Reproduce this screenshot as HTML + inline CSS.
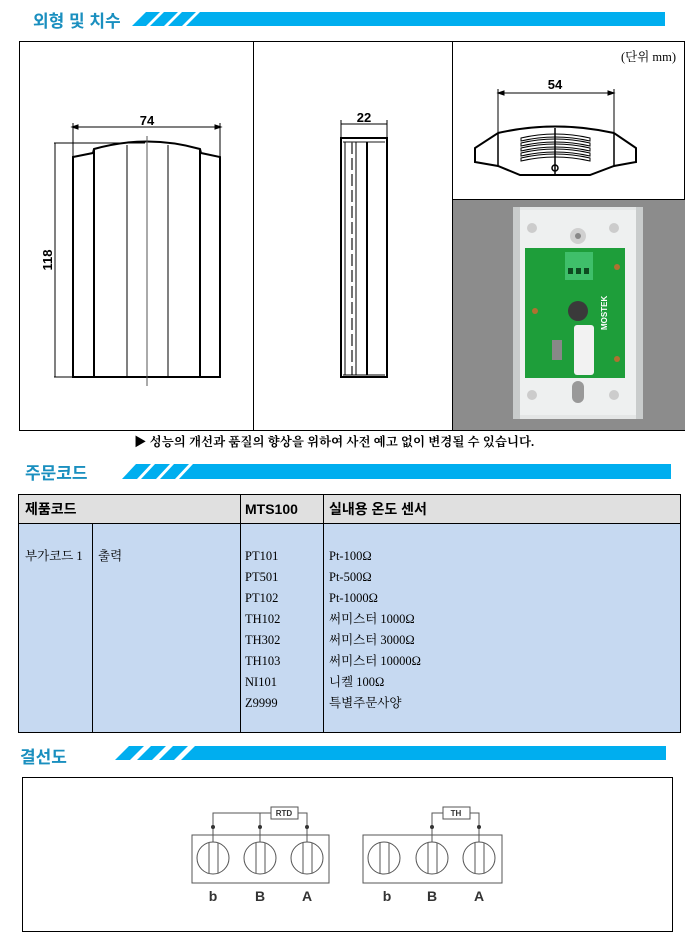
<!DOCTYPE html>
<html><head><meta charset="utf-8">
<style>
html,body{margin:0;padding:0;background:#fff;}
svg{display:block;}
.h{font-family:"Liberation Sans","Noto Sans CJK KR",sans-serif;font-weight:bold;fill:#1a8fbf;}
.t{font-family:"Liberation Serif","Noto Serif CJK SC","Noto Sans CJK KR",serif;font-size:12.5px;fill:#000;}
.b{font-family:"Liberation Sans","Noto Sans CJK KR",sans-serif;font-weight:bold;fill:#000;}
.d{font-family:"Liberation Sans",sans-serif;font-weight:bold;font-size:13px;fill:#000;}
</style></head>
<body>
<svg width="686" height="935" viewBox="0 0 686 935" xmlns="http://www.w3.org/2000/svg">
<!-- Section 1 header -->
<text x="33" y="27" class="h" font-size="17">외형 및 치수</text>
<g fill="#00aeef">
<polygon points="132,26 146,12 160,12 146,26"/>
<polygon points="150,26 164,12 178,12 164,26"/>
<polygon points="168,26 182,12 196,12 182,26"/>
<polygon points="186,26 200,12 665,12 665,26"/>
</g>
<!-- outer box -->
<rect x="19.5" y="41.5" width="665" height="389" fill="none" stroke="#000" stroke-width="1"/>
<line x1="253.5" y1="41" x2="253.5" y2="430" stroke="#000"/>
<line x1="452.5" y1="41" x2="452.5" y2="430" stroke="#000"/>
<line x1="452" y1="199.5" x2="685" y2="199.5" stroke="#000"/>
<!-- front view -->
<g stroke="#000" fill="none">
<line x1="73" y1="127" x2="220" y2="127" stroke-width="1"/>
<line x1="73" y1="123" x2="73" y2="157" stroke-width="1"/>
<line x1="220" y1="123" x2="220" y2="157" stroke-width="1"/>
<polygon points="72,127 78,125 78,129" fill="#000"/>
<polygon points="221,127 215,125 215,129" fill="#000"/>
<line x1="54" y1="143" x2="145" y2="143" stroke-width="1"/>
<line x1="54" y1="377" x2="73" y2="377" stroke-width="1"/>
<line x1="55" y1="143" x2="55" y2="377" stroke-width="1"/>
<path d="M73,157 L93,153 L94,149 Q147,134 200,149 L201,153 L220,157 L220,377 L73,377 Z" stroke-width="2"/>
<line x1="94" y1="150" x2="94" y2="377" stroke-width="2"/>
<line x1="200" y1="150" x2="200" y2="377" stroke-width="2"/>
<line x1="127" y1="145" x2="127" y2="377" stroke-width="1"/>
<line x1="168" y1="145" x2="168" y2="377" stroke-width="1"/>
<line x1="147" y1="136" x2="147" y2="386" stroke-width="1" stroke="#555"/>
</g>
<text x="147" y="125" class="d" text-anchor="middle">74</text>
<text x="0" y="0" class="d" transform="translate(52,260) rotate(-90)" text-anchor="middle">118</text>
<!-- side view -->
<g stroke="#000" fill="none">
<line x1="341" y1="124" x2="387" y2="124"/>
<line x1="341" y1="120" x2="341" y2="140"/>
<line x1="387" y1="120" x2="387" y2="140"/>
<rect x="341" y="138" width="46" height="239" stroke-width="2"/>
<line x1="343" y1="142" x2="385" y2="142" stroke-width="1.5" stroke="#666"/>
<line x1="345" y1="142" x2="345" y2="375" stroke-width="1"/>
<line x1="352" y1="142" x2="352" y2="375" stroke-width="1.5" stroke-dasharray="12,4" stroke="#444"/>
<line x1="356" y1="142" x2="356" y2="375" stroke-width="1"/>
<line x1="367" y1="142" x2="367" y2="375" stroke-width="2"/>
<line x1="343" y1="375" x2="385" y2="375" stroke-width="1"/>
</g>
<text x="364" y="122" class="d" text-anchor="middle">22</text>
<!-- top view -->
<text x="676" y="61" class="t" text-anchor="end" font-size="12">(단위 mm)</text>
<g stroke="#000" fill="none">
<line x1="498" y1="93" x2="614" y2="93"/>
<line x1="498" y1="89" x2="498" y2="133"/>
<line x1="614" y1="89" x2="614" y2="133"/>
<polygon points="498,93 504,91 504,95" fill="#000"/>
<polygon points="614,93 608,91 608,95" fill="#000"/>
<path d="M498,133 Q555,120 614,133 L636,148 L636,162 L614,166 L590,175 L520,175 L498,166 L475,162 L475,148 Z" stroke-width="2"/>
<line x1="498" y1="133" x2="498" y2="166" stroke-width="1.5"/>
<line x1="614" y1="133" x2="614" y2="166" stroke-width="1.5"/>
<g stroke-width="1">
<path d="M521,138 Q555,130 590,138 L590,141 Q555,133 521,141 Z"/>
<path d="M521,143 Q555,135 590,143 L590,146 Q555,138 521,146 Z"/>
<path d="M521,148 Q555,140 590,148 L590,151 Q555,143 521,151 Z"/>
<path d="M521,153 Q555,145 590,153 L590,156 Q555,148 521,156 Z"/>
<path d="M521,158 Q555,150 590,158 L590,161 Q555,153 521,161 Z"/>
</g>
<line x1="555" y1="128" x2="555" y2="175" stroke-width="1.5"/>
<circle cx="555" cy="168" r="3" stroke-width="1.5"/>
</g>
<text x="555" y="89" class="d" text-anchor="middle">54</text>
<!-- photo -->
<rect x="453" y="200" width="232" height="230" fill="#8c8c8c"/>
<rect x="513" y="207" width="130" height="212" fill="#e4e6e6"/>
<rect x="518" y="210" width="120" height="205" fill="#eef0f0"/>
<rect x="513" y="207" width="7" height="212" fill="#c9cccc"/>
<rect x="636" y="207" width="7" height="212" fill="#c9cccc"/>
<circle cx="532" cy="228" r="5" fill="#ccc"/><circle cx="614" cy="228" r="5" fill="#ccc"/>
<circle cx="578" cy="236" r="8" fill="#d0d0d0"/><circle cx="578" cy="236" r="3" fill="#888"/>
<circle cx="532" cy="395" r="5" fill="#ccc"/><circle cx="614" cy="395" r="5" fill="#ccc"/>
<rect x="572" y="381" width="12" height="22" rx="6" fill="#999"/>
<rect x="525" y="248" width="100" height="130" fill="#1e9e3a"/>
<rect x="565" y="252" width="28" height="28" fill="#3fbf6a"/>
<rect x="568" y="268" width="5" height="6" fill="#0d4a20"/><rect x="576" y="268" width="5" height="6" fill="#0d4a20"/><rect x="584" y="268" width="5" height="6" fill="#0d4a20"/>
<circle cx="578" cy="311" r="10" fill="#3a3a3a"/>
<rect x="574" y="325" width="20" height="50" rx="3" fill="#f2f2f2"/>
<rect x="552" y="340" width="10" height="20" fill="#888"/>
<text x="607" y="330" font-family="Liberation Sans" font-weight="bold" font-size="8" fill="#fff" transform="rotate(-90 607 330)">MOSTEK</text>
<circle cx="617" cy="267" r="3" fill="#b07030"/><circle cx="535" cy="311" r="3" fill="#b07030"/><circle cx="617" cy="359" r="3" fill="#b07030"/>
<!-- note -->
<text x="134" y="446" class="t" font-size="11" font-weight="bold">▶ 성능의 개선과 품질의 향상을 위하여 사전 예고 없이 변경될 수 있습니다.</text>
<!-- section 2 -->
<text x="25" y="479" class="h" font-size="17">주문코드</text>
<g fill="#00aeef">
<polygon points="122,479 136,464 151,464 137,479"/>
<polygon points="141,479 155,464 170,464 156,479"/>
<polygon points="160,479 174,464 189,464 175,479"/>
<polygon points="179,479 193,464 671,464 671,479"/>
</g>
<rect x="18.5" y="494.5" width="662" height="238" fill="#c6d9f1" stroke="#000" stroke-width="1"/>
<rect x="19" y="495" width="661" height="28" fill="#e0e0e0"/>
<line x1="18" y1="523.5" x2="681" y2="523.5" stroke="#000"/>
<line x1="92.5" y1="523" x2="92.5" y2="733" stroke="#000"/>
<line x1="240.5" y1="494" x2="240.5" y2="733" stroke="#000"/>
<line x1="323.5" y1="494" x2="323.5" y2="733" stroke="#000"/>
<text x="25" y="514" class="b" font-size="14">제품코드</text>
<text x="245" y="514" class="b" font-size="14">MTS100</text>
<text x="329" y="514" class="b" font-size="14">실내용 온도 센서</text>
<g class="t">
<text x="25" y="560">부가코드 1</text>
<text x="98" y="560">출력</text>
<text x="245" y="560">PT101</text><text x="329" y="560">Pt-100Ω</text>
<text x="245" y="581">PT501</text><text x="329" y="581">Pt-500Ω</text>
<text x="245" y="602">PT102</text><text x="329" y="602">Pt-1000Ω</text>
<text x="245" y="623">TH102</text><text x="329" y="623">써미스터  1000Ω</text>
<text x="245" y="644">TH302</text><text x="329" y="644">써미스터  3000Ω</text>
<text x="245" y="665">TH103</text><text x="329" y="665">써미스터 10000Ω</text>
<text x="245" y="686">NI101</text><text x="329" y="686">니켈 100Ω</text>
<text x="245" y="707">Z9999</text><text x="329" y="707">특별주문사양</text>
</g>
<!-- section 3 -->
<text x="20" y="763" class="h" font-size="17">결선도</text>
<g fill="#00aeef">
<polygon points="115,760 129,746 144,746 130,760"/>
<polygon points="137,760 151,746 166,746 152,760"/>
<polygon points="159,760 173,746 188,746 174,760"/>
<polygon points="181,760 195,746 666,746 666,760"/>
</g>
<rect x="22.5" y="777.5" width="650" height="154" fill="none" stroke="#000"/>
<!-- wiring -->
<g stroke="#555" fill="none" stroke-width="1">
<rect x="192" y="835" width="137" height="48"/>
<circle cx="213" cy="858" r="16"/><line x1="209" y1="843" x2="209" y2="873"/><line x1="218" y1="843" x2="218" y2="873"/>
<circle cx="260" cy="858" r="16"/><line x1="256" y1="843" x2="256" y2="873"/><line x1="265" y1="843" x2="265" y2="873"/>
<circle cx="307" cy="858" r="16"/><line x1="303" y1="843" x2="303" y2="873"/><line x1="312" y1="843" x2="312" y2="873"/>
<polyline points="213,842 213,813 271,813"/><line x1="260" y1="813" x2="260" y2="842"/>
<polyline points="298,813 307,813 307,842"/>
<rect x="271" y="807" width="27" height="12"/>
<rect x="363" y="835" width="139" height="48"/>
<circle cx="384" cy="858" r="16"/><line x1="380" y1="843" x2="380" y2="873"/><line x1="389" y1="843" x2="389" y2="873"/>
<circle cx="432" cy="858" r="16"/><line x1="428" y1="843" x2="428" y2="873"/><line x1="437" y1="843" x2="437" y2="873"/>
<circle cx="479" cy="858" r="16"/><line x1="475" y1="843" x2="475" y2="873"/><line x1="484" y1="843" x2="484" y2="873"/>
<polyline points="432,842 432,813 443,813"/><polyline points="470,813 479,813 479,842"/>
<rect x="443" y="807" width="27" height="12"/>
</g>
<g fill="#333"><circle cx="213" cy="827" r="2"/><circle cx="260" cy="827" r="2"/><circle cx="307" cy="827" r="2"/><circle cx="432" cy="827" r="2"/><circle cx="479" cy="827" r="2"/></g>
<g font-family="Liberation Sans" font-weight="bold" font-size="8" fill="#333" text-anchor="middle"><text x="284" y="816">RTD</text><text x="456" y="816">TH</text></g>
<g font-family="Liberation Sans" font-weight="bold" font-size="14" fill="#333" text-anchor="middle">
<text x="213" y="901">b</text><text x="260" y="901">B</text><text x="307" y="901">A</text>
<text x="387" y="901">b</text><text x="432" y="901">B</text><text x="479" y="901">A</text></g>
</svg>
</body></html>
